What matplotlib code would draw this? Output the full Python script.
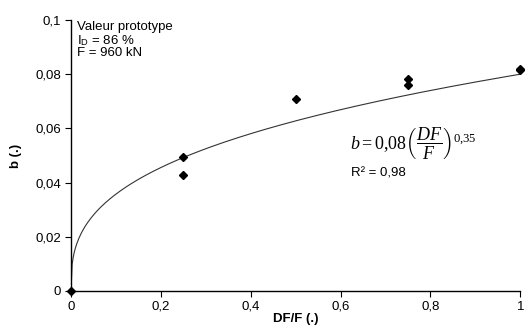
import matplotlib
matplotlib.use('Agg')
import matplotlib.pyplot as plt
import numpy as np
from matplotlib.ticker import FuncFormatter

plt.rcParams['font.family'] = ['Liberation Sans', 'DejaVu Sans']
plt.rcParams['mathtext.fontset'] = 'custom'
plt.rcParams['mathtext.rm'] = 'Liberation Serif'
plt.rcParams['mathtext.it'] = 'Liberation Serif:italic'
plt.rcParams['mathtext.sf'] = 'Liberation Sans'

# measured points
df_f = [0, 0.25, 0.25, 0.5, 0.75, 0.75, 1.0, 1.0]
b_vals = [0, 0.0494, 0.0428, 0.0708, 0.0782, 0.0760, 0.0815, 0.0818]

# fit b = a * (DF/F)^n
a_fit = 0.08
n_fit = 0.35

x_ticks = [0, 0.2, 0.4, 0.6, 0.8, 1.0]
y_ticks = [0, 0.02, 0.04, 0.06, 0.08, 0.1]


def comma(v, pos):
    s = ('%g' % v)
    return s.replace('.', ',')


fig = plt.figure(figsize=(5.26, 3.34), dpi=100)
ax = fig.add_axes([0.135, 0.129, 0.854, 0.811])

xx = np.linspace(0, 1, 400)
ax.plot(xx, a_fit * xx ** n_fit, color='#333333', lw=0.8)
ax.plot(df_f, b_vals, 'D', color='black', ms=4.5, clip_on=False, zorder=5)

ax.set_xlim(0, 1)
ax.set_ylim(0, 0.1)
ax.set_xticks(x_ticks)
ax.set_yticks(y_ticks)
ax.xaxis.set_major_formatter(FuncFormatter(comma))
ax.yaxis.set_major_formatter(FuncFormatter(comma))
ax.tick_params(direction='out', length=4, width=0.8, labelsize=9.5, pad=3)

for s in ['top', 'right']:
    ax.spines[s].set_visible(False)
ax.spines['left'].set_linewidth(1.0)
ax.spines['bottom'].set_linewidth(1.0)

ax.set_xlabel('DF/F (.)', fontweight='bold', fontsize=9.5, labelpad=0)
ax.set_ylabel('b (.)', fontweight='bold', fontsize=9.5, labelpad=10)

ax.text(0.013, 0.995, 'Valeur prototype\nI$_{\\mathsf{D}}$ = 86 %\nF = 960 kN',
        transform=ax.transAxes, ha='left', va='top', fontsize=9.5, linespacing=0.95)

ax.text(0.62, 0.0545, r'$b = 0{,}08\left(\dfrac{DF}{F}\right)^{0{,}35}$',
        ha='left', va='center', fontsize=13)
ax.text(0.623, 0.0432, 'R² = 0,98', ha='left', va='center', fontsize=9.5)

fig.savefig('out.png', dpi=100)
